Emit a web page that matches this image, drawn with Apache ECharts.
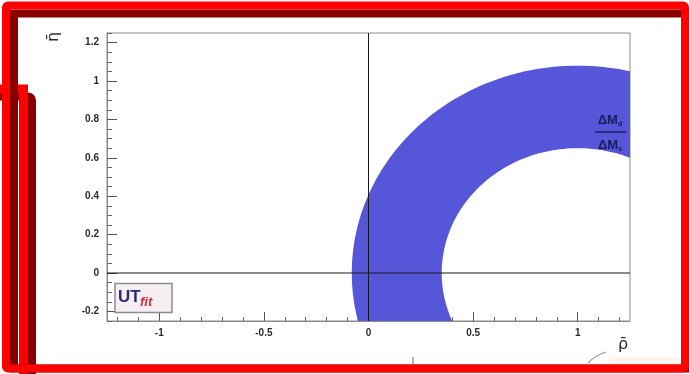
<!DOCTYPE html>
<html>
<head>
<meta charset="utf-8">
<script src="https://cdn.jsdelivr.net/npm/echarts@6/dist/echarts.min.js"></script>
<style>
  html, body { margin: 0; padding: 0; background: #ffffff; }
  #chart { width: 689px; height: 374px; }
</style>
</head>
<body>
<div id="chart"></div>
<script>
// Axis ranges of the (rho-bar, eta-bar) plane
const rhoRange = [-1.25, 1.25];
const etaRange = [-0.25, 1.25];

// Labelled (major) ticks
const rhoTicks = [-1, -0.5, 0, 0.5, 1];
const etaTicks = [-0.2, 0, 0.2, 0.4, 0.6, 0.8, 1, 1.2];

// Unlabelled (minor) ticks
const rhoMinorTicks = [-1.2, -1.1, -0.9, -0.8, -0.7, -0.6, -0.4, -0.3, -0.2, -0.1,
                       0.1, 0.2, 0.3, 0.4, 0.6, 0.7, 0.8, 0.9, 1.1, 1.2];
const etaMinorTicks = [-0.25, -0.15, -0.1, -0.05, 0.05, 0.1, 0.15, 0.25, 0.3, 0.35,
                       0.45, 0.5, 0.55, 0.65, 0.7, 0.75, 0.85, 0.9, 0.95, 1.05,
                       1.1, 1.15, 1.25];

// Delta M_d / Delta M_s constraint: ring centred at (1, 0)
const bandCenter = [1, 0];
const bandRadii = [0.65, 1.08];   // inner, outer

const chart = echarts.init(document.getElementById('chart'), null, { renderer: 'canvas' });

const tickFont = { fontFamily: 'Liberation Sans', fontSize: 10, fontWeight: 'bold', color: '#2a2a2a' };
const frameColor = '#8a8a8a';

function ringItem(params, api) {
  const cx = api.value(0), cy = api.value(1);
  const r0 = api.value(2), r1 = api.value(3);
  const n = 240;
  const pts = [];
  for (let i = 0; i <= n; i++) {
    const t = -Math.PI / 2 + 2 * Math.PI * i / n;
    pts.push(api.coord([cx + r1 * Math.cos(t), cy + r1 * Math.sin(t)]));
  }
  for (let i = n; i >= 0; i--) {
    const t = -Math.PI / 2 + 2 * Math.PI * i / n;
    pts.push(api.coord([cx + r0 * Math.cos(t), cy + r0 * Math.sin(t)]));
  }
  return { type: 'polygon', shape: { points: pts }, style: { fill: '#5656d8', stroke: null } };
}

const subStyle = { fontSize: 7, fontWeight: 'bold', fontFamily: 'Liberation Sans', fill: '#1c1c5c', padding: [8, 0, 0, 0] };

const option = {
  animation: false,
  backgroundColor: '#ffffff',
  grid: {
    left: 107, right: 59, top: 33, bottom: 53,
    show: true, borderColor: frameColor, borderWidth: 1, backgroundColor: 'transparent'
  },
  xAxis: [
    {
      type: 'value', min: rhoRange[0], max: rhoRange[1], position: 'bottom',
      axisLine: { show: true, onZero: false, lineStyle: { color: frameColor, width: 1 } },
      axisTick: { show: true, inside: true, length: 9, customValues: rhoTicks, lineStyle: { color: '#555' } },
      axisLabel: Object.assign({ customValues: rhoTicks, margin: 7 }, tickFont),
      splitLine: { show: false }
    },
    {
      type: 'value', min: rhoRange[0], max: rhoRange[1], position: 'bottom',
      axisLine: { show: false, onZero: false },
      axisTick: { show: true, inside: true, length: 4, customValues: rhoMinorTicks, lineStyle: { color: '#666' } },
      axisLabel: { show: false },
      splitLine: { show: false }
    }
  ],
  yAxis: [
    {
      type: 'value', min: etaRange[0], max: etaRange[1], position: 'left',
      axisLine: { show: true, onZero: false, lineStyle: { color: frameColor, width: 1 } },
      axisTick: { show: true, inside: true, length: 10, customValues: etaTicks, lineStyle: { color: '#555' } },
      axisLabel: Object.assign({ customValues: etaTicks, margin: 8,
        formatter: v => String(Math.round(v * 10) / 10) }, tickFont),
      splitLine: { show: false }
    },
    {
      type: 'value', min: etaRange[0], max: etaRange[1], position: 'left',
      axisLine: { show: false, onZero: false },
      axisTick: { show: true, inside: true, length: 5, customValues: etaMinorTicks, lineStyle: { color: '#666' } },
      axisLabel: { show: false },
      splitLine: { show: false }
    }
  ],
  series: [
    {
      type: 'custom', name: 'ΔMd/ΔMs', xAxisIndex: 0, yAxisIndex: 0,
      clip: true, z: 2,
      renderItem: ringItem,
      data: [[bandCenter[0], bandCenter[1], bandRadii[0], bandRadii[1]]]
    },
    {
      type: 'line', xAxisIndex: 0, yAxisIndex: 0, z: 5, symbol: 'none', silent: true,
      lineStyle: { color: '#1a1a1a', width: 1 },
      data: [[rhoRange[0], 0], [rhoRange[1], 0]]
    },
    {
      type: 'line', xAxisIndex: 0, yAxisIndex: 0, z: 5, symbol: 'none', silent: true,
      lineStyle: { color: '#1a1a1a', width: 1 },
      data: [[0, etaRange[0]], [0, etaRange[1]]]
    }
  ],
  graphic: [
    // axis titles
    { type: 'text', x: 54, y: 37, rotation: Math.PI / 2, z: 20,
      style: { text: 'η\u0304', font: '16px DejaVu Sans', fill: '#2a2a2a', align: 'center', verticalAlign: 'middle' } },
    { type: 'text', x: 623, y: 345, z: 20,
      style: { text: 'ρ\u0304', font: '16px DejaVu Sans', fill: '#2a2a2a', align: 'center', verticalAlign: 'middle' } },

    // constraint label
    { type: 'text', x: 610, y: 120, z: 20,
      style: { text: 'ΔM{s|d}', fill: '#1c1c5c', align: 'center', verticalAlign: 'middle',
        font: 'bold 13px Liberation Sans', rich: { s: subStyle } } },
    { type: 'line', z: 20, shape: { x1: 595, y1: 132, x2: 626, y2: 132 },
      style: { stroke: '#1c1c5c', lineWidth: 1.4 } },
    { type: 'text', x: 610, y: 145, z: 20,
      style: { text: 'ΔM{s|s}', fill: '#1c1c5c', align: 'center', verticalAlign: 'middle',
        font: 'bold 13px Liberation Sans', rich: { s: subStyle } } },

    // UTfit logo
    { type: 'rect', z: 20, shape: { x: 115, y: 283.5, width: 57, height: 29 },
      style: { fill: '#f6eef3', stroke: '#8a8a96', lineWidth: 1.5 } },
    { type: 'text', x: 118, y: 297, z: 21,
      style: { text: 'UT', font: 'bold 17px Liberation Sans', fill: '#2a2a6e', verticalAlign: 'middle' } },
    { type: 'text', x: 140, y: 302, z: 21,
      style: { text: 'fit', font: 'italic bold 13px Liberation Sans', fill: '#cc2f3c', verticalAlign: 'middle' } },

    // faint marks under the plot
    { type: 'line', z: 20, shape: { x1: 413, y1: 357, x2: 413, y2: 365 },
      style: { stroke: '#999', lineWidth: 1.5 } },
    { type: 'bezierCurve', z: 20, shape: { x1: 588, y1: 363, x2: 606, y2: 352, cpx1: 594, cpy1: 356 },
      style: { stroke: '#999', lineWidth: 1.2, fill: null } },
    { type: 'rect', z: 19, shape: { x: 609, y: 357, width: 73, height: 8 },
      style: { fill: '#fdf5ee' } },

    // red outlines around the figure
    { type: 'rect', z: 30, shape: { x: -100, y: 96.5, width: 132, height: 400, r: 4 },
      style: { fill: null, stroke: '#880000', lineWidth: 8 } },
    { type: 'rect', z: 31, shape: { x: -100, y: 89, width: 123.5, height: 400 },
      style: { fill: null, stroke: '#ff0000', lineWidth: 9 } },
    { type: 'rect', z: 32, shape: { x: 14, y: 13.5, width: 671, height: 355 },
      style: { fill: null, stroke: '#880000', lineWidth: 8 } },
    { type: 'rect', z: 33, shape: { x: 6, y: 5.5, width: 679, height: 363, r: 2 },
      style: { fill: null, stroke: '#ff0000', lineWidth: 8 } }
  ]
};

chart.setOption(option);
</script>
</body>
</html>
